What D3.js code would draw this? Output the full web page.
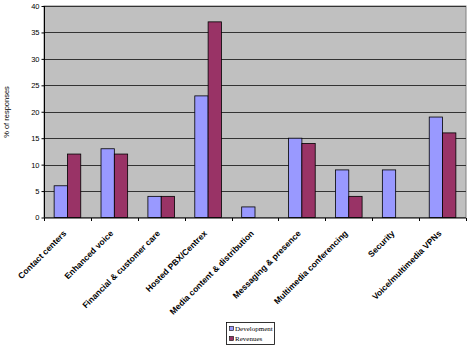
<!DOCTYPE html>
<html><head><meta charset="utf-8">
<script src="https://cdn.jsdelivr.net/npm/d3@7"></script>
<style>body{margin:0;background:#fff}svg{display:block}</style>
</head><body>
<svg id="c" width="470" height="349"></svg>
<script>
const categories = ["Contact centers","Enhanced voice","Financial & customer care","Hosted PBX/Centrex","Media content & distribution","Messaging & presence","Multimedia conferencing","Security","Voice/multimedia VPNs"];
const development = [6,13,4,23,2,15,9,9,19];
const revenues = [12,12,4,37,0,14,4,0,16];
const seriesNames = ["Development","Revenues"];
const colors = ["#9999FF","#993366"];
const yTicks = [0,5,10,15,20,25,30,35,40];

const svg = d3.select("#c");
const L=44, R=466, T=6, B=217.5;
const x = d3.scaleBand().domain(categories).range([L,R]).padding(0);
const y = d3.scaleLinear().domain([0,40]).range([B,T]);
const bw = x.bandwidth()*0.284;

svg.append("rect").attr("x",L).attr("y",T).attr("width",R-L).attr("height",B-T)
  .attr("fill","#C0C0C0").attr("stroke","#808080").attr("stroke-width",1);

svg.append("g").selectAll("line").data(yTicks.filter(d=>d>0)).join("line")
  .attr("x1",L).attr("x2",R).attr("y1",d=>Math.round(y(d))+0.5).attr("y2",d=>Math.round(y(d))+0.5)
  .attr("stroke","#333").attr("stroke-width",1);

const data = [development, revenues];
data.forEach((vals,si)=>{
  svg.append("g").selectAll("rect").data(categories.map((c,i)=>({c,v:vals[i]})).filter(d=>d.v>0)).join("rect")
    .attr("x",d=>x(d.c)+x.bandwidth()/2 - bw + si*bw)
    .attr("y",d=>y(d.v))
    .attr("width",bw)
    .attr("height",d=>B-y(d.v))
    .attr("fill",colors[si]).attr("stroke","#000").attr("stroke-width",0.8);
});

// y axis
const ya = svg.append("g").attr("transform",`translate(${L+0.5},0)`)
  .call(d3.axisLeft(y).tickValues(yTicks).tickSize(3).tickPadding(2));
ya.select(".domain").attr("stroke","#000").attr("d",`M0,${T}V${B}`);
ya.selectAll("text").attr("font-family","Liberation Sans, Arial").attr("font-size","7.5px").attr("fill","#000");

// x axis
const xa = svg.append("g").attr("transform",`translate(0,${B+0.5})`);
xa.append("line").attr("x1",L).attr("x2",R).attr("stroke","#000");
xa.selectAll(".tk").data(categories.map((c,i)=>x(c)).concat([R])).join("line")
  .attr("x1",d=>Math.round(d)+0.5).attr("x2",d=>Math.round(d)+0.5).attr("y1",0).attr("y2",3).attr("stroke","#000");
xa.selectAll("text").data(categories).join("text")
  .attr("transform",d=>`translate(${x(d)+x.bandwidth()/2-0.5},${16}) rotate(-45)`)
  .attr("text-anchor","end")
  .attr("font-family","Liberation Sans, Arial").attr("font-weight","bold").attr("font-size","8.5px")
  .text(d=>d);

svg.append("text").attr("transform","translate(9,112) rotate(-90)").attr("text-anchor","middle")
  .attr("font-family","Liberation Sans, Arial").attr("font-size","7.5px").text("% of responses");

// legend
const lg = svg.append("g");
lg.append("rect").attr("x",226.5).attr("y",322.5).attr("width",48).attr("height",22).attr("fill","#fff").attr("stroke","#000").attr("stroke-width",0.8);
seriesNames.forEach((n,i)=>{
  lg.append("rect").attr("x",229.5).attr("y",326.5+i*10).attr("width",4).attr("height",4).attr("fill",colors[i]).attr("stroke","#000").attr("stroke-width",0.6);
  lg.append("text").attr("x",235).attr("y",331+i*10).attr("font-family","Liberation Serif, Times New Roman").attr("font-size","7px").text(n);
});
</script>
</body></html>
